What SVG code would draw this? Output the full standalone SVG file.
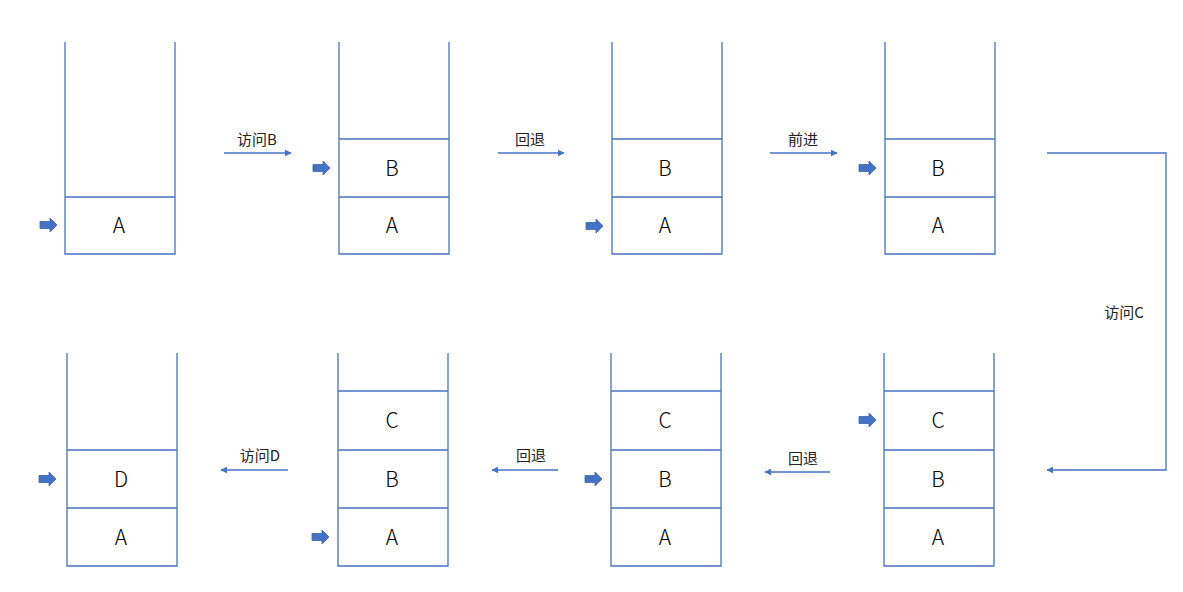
<svg xmlns="http://www.w3.org/2000/svg" width="1183" height="592" viewBox="0 0 1183 592">
<style>
.box{fill:none;stroke:#4472C4;stroke-width:1.3}
.cell{font-family:"Noto Sans CJK SC","Noto Sans",sans-serif;font-size:21px;font-weight:300;fill:#000;text-anchor:middle}
.lbl{font-family:"Noto Sans CJK SC","Noto Sans",sans-serif;font-size:15px;fill:#222;text-anchor:middle}
.conn{fill:none;stroke:#4472C4;stroke-width:1.3}
.ptr{fill:#4472C4;stroke:#3A64AE;stroke-width:0.8}
</style>
<defs>
<marker id="ah" viewBox="0 0 10 10" refX="9" refY="5" markerWidth="7" markerHeight="7" markerUnits="userSpaceOnUse" orient="auto">
<path d="M0,0 L10,5 L0,10 z" fill="#4472C4"/>
</marker>
<path id="p" d="M0,-3.5 H10 V-7 L17,0 L10,7 V3.5 H0 z"/>
</defs>
<rect width="1183" height="592" fill="#fff"/>
<g id="stack1">
<path class="box" d="M65,42 V254 H175 V42 M65,197 H175"/>
<text class="cell" x="119" y="233">A</text>
<use href="#p" class="ptr" x="40" y="225"/>
</g>
<g id="stack2">
<path class="box" d="M339,42 V254 H449 V42 M339,139 H449 M339,197 H449"/>
<text class="cell" x="392" y="176">B</text>
<text class="cell" x="392" y="233">A</text>
<use href="#p" class="ptr" x="313" y="168"/>
</g>
<g id="stack3">
<path class="box" d="M612,42 V254 H722 V42 M612,139 H722 M612,197 H722"/>
<text class="cell" x="665" y="176">B</text>
<text class="cell" x="665" y="233">A</text>
<use href="#p" class="ptr" x="586" y="226"/>
</g>
<g id="stack4">
<path class="box" d="M885,42 V254 H995 V42 M885,139 H995 M885,197 H995"/>
<text class="cell" x="938" y="176">B</text>
<text class="cell" x="938" y="233">A</text>
<use href="#p" class="ptr" x="859" y="168"/>
</g>
<g id="stack5">
<path class="box" d="M67,353 V566 H177 V353 M67,450 H177 M67,508 H177"/>
<text class="cell" x="121" y="487">D</text>
<text class="cell" x="121" y="545">A</text>
<use href="#p" class="ptr" x="39" y="479"/>
</g>
<g id="stack6">
<path class="box" d="M338,353 V566 H448 V353 M338,391 H448 M338,450 H448 M338,508 H448"/>
<text class="cell" x="392" y="428">C</text>
<text class="cell" x="392" y="487">B</text>
<text class="cell" x="392" y="545">A</text>
<use href="#p" class="ptr" x="312" y="537"/>
</g>
<g id="stack7">
<path class="box" d="M611,353 V566 H721 V353 M611,391 H721 M611,450 H721 M611,508 H721"/>
<text class="cell" x="665" y="428">C</text>
<text class="cell" x="665" y="487">B</text>
<text class="cell" x="665" y="545">A</text>
<use href="#p" class="ptr" x="585" y="479"/>
</g>
<g id="stack8">
<path class="box" d="M884,353 V566 H994 V353 M884,391 H994 M884,450 H994 M884,508 H994"/>
<text class="cell" x="938" y="428">C</text>
<text class="cell" x="938" y="487">B</text>
<text class="cell" x="938" y="545">A</text>
<use href="#p" class="ptr" x="859" y="420"/>
</g>
<g id="connectors">
<path class="conn" marker-end="url(#ah)" d="M224,153 H291"/>
<path class="conn" marker-end="url(#ah)" d="M498,153 H564"/>
<path class="conn" marker-end="url(#ah)" d="M770,153 H837"/>
<path class="conn" marker-end="url(#ah)" d="M1047,153 H1166 V470 H1047"/>
<path class="conn" marker-end="url(#ah)" d="M830,472 H765"/>
<path class="conn" marker-end="url(#ah)" d="M558,470 H492"/>
<path class="conn" marker-end="url(#ah)" d="M288,470 H221"/>
<text class="lbl" x="257" y="145">访问B</text>
<text class="lbl" x="530" y="145">回退</text>
<text class="lbl" x="803" y="145">前进</text>
<text class="lbl" x="1124" y="318">访问C</text>
<text class="lbl" x="803" y="464">回退</text>
<text class="lbl" x="531" y="461">回退</text>
<text class="lbl" x="260" y="461">访问D</text>
</g>
</svg>
